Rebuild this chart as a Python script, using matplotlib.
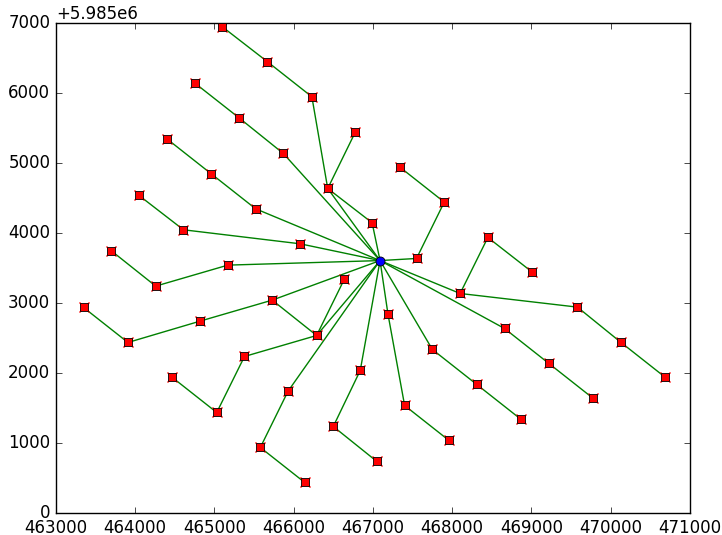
import matplotlib
matplotlib.use("Agg")
import matplotlib.pyplot as plt
from matplotlib.ticker import ScalarFormatter

plt.style.use("classic")

Y0 = 5985000  # northing offset shown on the axis

# substation (blue) and turbines (red), easting / northing
hub = (467090, Y0 + 3610)

pts = {
    "A1": (465100, 6950), "A2": (465670, 6450), "A3": (466230, 5950), "A4": (466430, 4640),
    "B":  (466780, 5450), "C":  (466990, 4150),
    "D1": (464760, 6140), "D2": (465310, 5650), "D3": (465870, 5140),
    "E1": (464400, 5350), "E2": (464960, 4850), "E3": (465520, 4350),
    "F1": (464050, 4540), "F2": (464610, 4050), "G":  (466080, 3850),
    "H1": (463700, 3750), "H2": (464260, 3245), "H3": (465170, 3545),
    "I1": (463350, 2940), "I2": (463910, 2440), "I3": (464820, 2745),
    "J1": (465730, 3045), "J2": (466290, 2540), "J3": (466640, 3345),
    "K1": (465380, 2240), "K2": (465030, 1440), "K3": (464470, 1940),
    "L1": (465930, 1745), "L2": (465580, 940),  "L3": (466140, 440),
    "M1": (466840, 2040), "M2": (466500, 1240), "M3": (467050, 740),
    "N1": (467340, 4945), "N2": (467900, 4445), "N3": (467550, 3640),
    "O1": (468450, 3940), "O2": (469010, 3445), "P":  (468100, 3140),
    "Q1": (469580, 2945), "Q2": (470130, 2440), "Q3": (470690, 1940),
    "R1": (468660, 2640), "R2": (469220, 2140), "R3": (469780, 1640),
    "S1": (467750, 2340), "S2": (468310, 1840), "S3": (468870, 1340),
    "T1": (467190, 2845), "T2": (467400, 1540), "T3": (467960, 1040),
}

# cable strings, "hub" = substation
strings = [
    ["hub", "A4", "A3", "A2", "A1"],
    ["A4", "B"],
    ["A4", "C", "hub"],
    ["hub", "D3", "D2", "D1"],
    ["hub", "E3", "E2", "E1"],
    ["hub", "G", "F2", "F1"],
    ["hub", "H3", "H2", "H1"],
    ["hub", "J1", "I3", "I2", "I1"],
    ["J1", "J2", "hub"],
    ["J2", "J3"],
    ["J2", "K1", "K2", "K3"],
    ["hub", "L1", "L2", "L3"],
    ["hub", "M1", "M2", "M3"],
    ["hub", "N3", "N2", "N1"],
    ["hub", "P", "O1", "O2"],
    ["P", "Q1", "Q2", "Q3"],
    ["hub", "R1", "R2", "R3"],
    ["hub", "S1", "S2", "S3"],
    ["hub", "T1", "T2", "T3"],
]


def coord(name):
    if name == "hub":
        return hub
    x, y = pts[name]
    return x, Y0 + y


fig = plt.figure(figsize=(7.22, 5.35), dpi=100, facecolor="white")
ax = fig.add_axes([0.0773, 0.0406, 0.8784, 0.9159])

for s in strings:
    xy = [coord(n) for n in s]
    ax.plot([p[0] for p in xy], [p[1] for p in xy], "g-", lw=1, zorder=1)

tx = [coord(n)[0] for n in pts]
ty = [coord(n)[1] for n in pts]
ax.plot(tx, ty, "rx", ms=7, mew=1, zorder=2)
ax.plot(tx, ty, "rs", ms=6.3, mec="k", mew=0.6, zorder=3)
ax.plot([hub[0]], [hub[1]], "bo", ms=6.5, mec="k", mew=0.6, zorder=4)

ax.set_xlim(463000, 471000)
ax.set_ylim(Y0, Y0 + 7000)

xf = ScalarFormatter(useOffset=False)
ax.xaxis.set_major_formatter(xf)
yf = ScalarFormatter(useOffset=Y0)
ax.yaxis.set_major_formatter(yf)

fig.savefig("out.png", dpi=100, facecolor="white")
